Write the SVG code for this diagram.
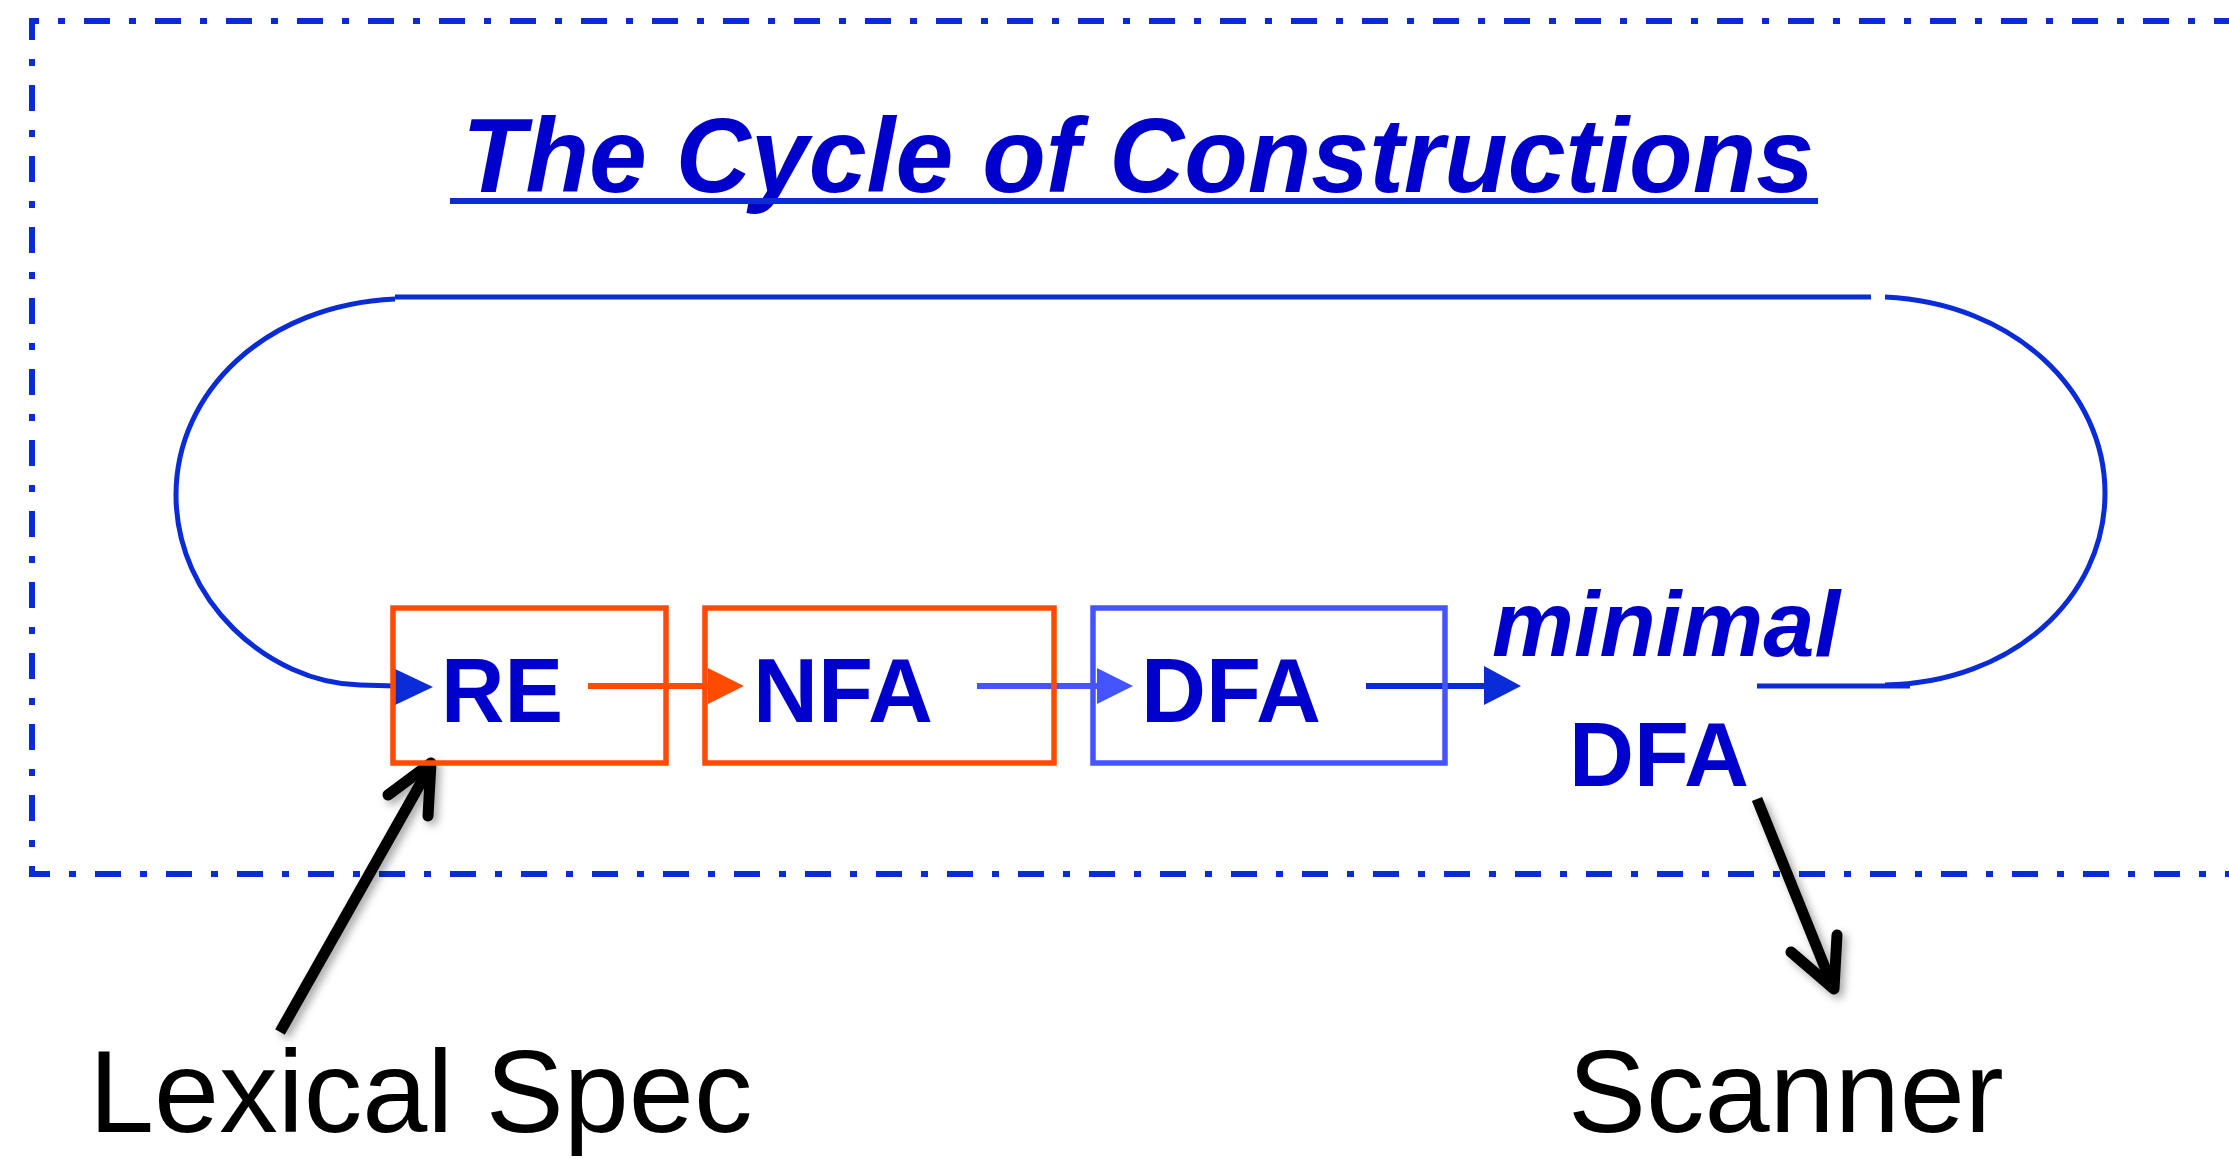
<svg xmlns="http://www.w3.org/2000/svg" width="2229" height="1159" viewBox="0 0 2229 1159">
<defs>
<style>
.frame{fill:none;stroke:#0a2bd8;stroke-width:6;stroke-dasharray:26 19 7 19}
.loop{fill:none;stroke:#0a2bd8;stroke-width:5}
.box{fill:none;stroke-width:5.5}
.lbl{font-family:"Liberation Sans",Arial,sans-serif;font-weight:bold;fill:#0000cc}
.big{font-family:"Liberation Sans",Arial,sans-serif;fill:#000;font-size:117px}
.blk{fill:none;stroke:#000;stroke-width:11}
</style>
<filter id="sh" x="-30%" y="-30%" width="160%" height="160%">
<feDropShadow dx="4" dy="4" stdDeviation="4" flood-color="#000" flood-opacity="0.35"/>
</filter>
</defs>
<rect width="2229" height="1159" fill="#fff"/>
<g id="frame">
<path class="frame" d="M2240 21 L32 21 L32 874 L2240 874"/>
</g>
<g id="title">
<text class="lbl" x="462" y="192" font-size="105" font-style="italic" textLength="1352" lengthAdjust="spacingAndGlyphs">The Cycle of Constructions</text>
<line x1="450" y1="201" x2="1818" y2="201" stroke="#0a2bd8" stroke-width="6"/>
</g>
<g id="connectors">
<path class="loop" d="M395 299 C265 305 176 392 176 495 C176 600 268 683 360 685 L396 686"/>
<line class="loop" x1="395" y1="297" x2="1871" y2="297"/>
<path class="loop" d="M1885 297 C2015 303 2105 392 2105 493 C2105 598 2012 683 1885 685"/>
<line class="loop" x1="1757" y1="686" x2="1910" y2="686"/>
<polygon points="393,668 433,687 393,706" fill="#0a2bd8"/>
<line x1="588" y1="686" x2="712" y2="686" stroke="#ff4b00" stroke-width="6"/>
<polygon points="708,668 744,686 708,704" fill="#ff4b00"/>
<line x1="977" y1="686" x2="1100" y2="686" stroke="#4455ff" stroke-width="6"/>
<polygon points="1097,668 1133,686 1097,704" fill="#4455ff"/>
<line x1="1366" y1="686" x2="1488" y2="686" stroke="#0a2bd8" stroke-width="6"/>
<polygon points="1484,666 1521,686 1484,705" fill="#0a2bd8"/>
<g filter="url(#sh)">
<line class="blk" x1="280" y1="1032" x2="427" y2="772"/>
<polyline class="blk" points="388,795 431,763 428,816" stroke-linecap="round" stroke-linejoin="round"/>
<line class="blk" x1="1757" y1="799" x2="1830" y2="980"/>
<polyline class="blk" points="1791,952 1834,989 1837,935" stroke-linecap="round" stroke-linejoin="round"/>
</g>
</g>
<g id="node-re">
<rect class="box" x="393" y="608" width="273" height="155" stroke="#ff4b00"/>
<text class="lbl" x="441" y="722" font-size="90" textLength="122" lengthAdjust="spacingAndGlyphs">RE</text>
</g>
<g id="node-nfa">
<rect class="box" x="705" y="608" width="349" height="155" stroke="#ff4b00"/>
<text class="lbl" x="753" y="722" font-size="90" textLength="180" lengthAdjust="spacingAndGlyphs">NFA</text>
</g>
<g id="node-dfa">
<rect class="box" x="1093" y="608" width="352" height="155" stroke="#4455ff"/>
<text class="lbl" x="1141" y="722" font-size="90" textLength="180" lengthAdjust="spacingAndGlyphs">DFA</text>
</g>
<g id="node-min-dfa">
<text class="lbl" x="1492" y="656" font-size="92" font-style="italic" textLength="348" lengthAdjust="spacingAndGlyphs">minimal</text>
<text class="lbl" x="1569" y="786" font-size="90" textLength="180" lengthAdjust="spacingAndGlyphs">DFA</text>
</g>
<g id="node-lexical-spec">
<text class="big" x="89" y="1132">Lexical Spec</text>
</g>
<g id="node-scanner">
<text class="big" x="1568" y="1132">Scanner</text>
</g>
</svg>
